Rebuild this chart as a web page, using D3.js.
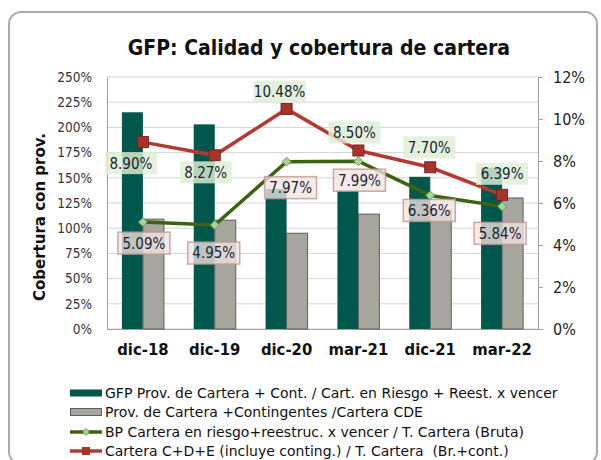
<!DOCTYPE html>
<html>
<head>
<meta charset="utf-8">
<script src="https://cdn.jsdelivr.net/npm/d3@7"></script>
<style>
html,body{margin:0;padding:0;background:#fff;}
svg{display:block;}
text{font-family:"DejaVu Sans Condensed","DejaVu Sans",sans-serif;}
</style>
</head>
<body>
<svg id="chart" width="601" height="460"></svg>
<script>
// ---- data ----
const categories = ["dic-18","dic-19","dic-20","mar-21","dic-21","mar-22"];
const coberturaGFP = [2.15, 2.03, 1.39, 1.37, 1.51, 1.60];      // left axis
const coberturaCDE = [1.09, 1.08, 0.95, 1.14, 1.18, 1.30];      // left axis
const carteraRiesgo = [0.0509, 0.0495, 0.0797, 0.0799, 0.0636, 0.0584]; // right axis
const carteraCDE = [0.0890, 0.0827, 0.1048, 0.0850, 0.0770, 0.0639];    // right axis
const leftTicks = [0,0.25,0.5,0.75,1,1.25,1.5,1.75,2,2.25,2.5];
const rightTicks = [0,0.02,0.04,0.06,0.08,0.10,0.12];
const seriesNames = [
  "GFP Prov. de Cartera + Cont. / Cart. en Riesgo + Reest. x vencer",
  "Prov. de Cartera +Contingentes /Cartera CDE",
  "BP Cartera en riesgo+reestruc. x vencer / T. Cartera (Bruta)",
  "Cartera C+D+E (incluye conting.) / T. Cartera  (Br.+cont.)"
];
// label placement (layout only)
const redLabelOffsets = [[-12,21],[-9,17],[-7,-17],[-4,-18],[-1,-20],[0,-21]];
const greenLabelOffsets = [[1,21],[-1,28],[4,26],[1,19],[-1,15],[-2,27]];

// ---- layout ----
const svg = d3.select("#chart");
const L = 107, R = 538, T = 77, B = 329;
const colDark = "#00574b", colGray = "#a6a69c", colGreen = "#3c6410", colRed = "#b23a32";

// frame
svg.append("rect").attr("x",9).attr("y",12).attr("width",588).attr("height",452)
  .attr("rx",12).attr("fill","#fff").attr("stroke","#a9a9a9").attr("stroke-width",2);

// title
svg.append("text").attr("x",319).attr("y",55).attr("text-anchor","middle")
  .attr("font-size",21).attr("font-weight","bold").attr("fill","#111")
  .text("GFP: Calidad y cobertura de cartera");

const x = d3.scaleBand().domain(categories).range([L,R]).paddingInner(0.415).paddingOuter(0.2075);
const x1 = d3.scaleBand().domain([0,1]).range([0,x.bandwidth()]);
const yL = d3.scaleLinear().domain([0,2.5]).range([B,T]);
const yR = d3.scaleLinear().domain([0,0.12]).range([B,T]);
const cx = c => x(c) + x.bandwidth()/2;

// gridlines
svg.append("g").selectAll("line").data(leftTicks).join("line")
  .attr("x1",L).attr("x2",R).attr("y1",d=>yL(d)).attr("y2",d=>yL(d))
  .attr("stroke","#d4d4d4").attr("stroke-width",1);

// left axis
const fmtL = d3.format(".0%");
const gL = svg.append("g").attr("transform",`translate(${L},0)`)
  .call(d3.axisLeft(yL).tickValues(leftTicks).tickFormat(fmtL).tickSize(0).tickPadding(15));
gL.select(".domain").attr("stroke","#a0a0a0");
gL.selectAll("text").attr("font-size",13.5).attr("fill","#333")
  .style("font-family",'"DejaVu Sans Condensed",sans-serif');

// right axis
const gR = svg.append("g").attr("transform",`translate(${R},0)`)
  .call(d3.axisRight(yR).tickValues(rightTicks).tickFormat(d3.format(".0%")).tickSize(5).tickPadding(10));
gR.select(".domain").attr("stroke","#a0a0a0");
gR.selectAll("line").attr("stroke","#a0a0a0");
gR.selectAll("text").attr("font-size",16).attr("fill","#222")
  .style("font-family",'"DejaVu Sans Condensed",sans-serif');

// bottom axis
const gB = svg.append("g").attr("transform",`translate(0,${B})`)
  .call(d3.axisBottom(x).tickSize(0).tickPadding(14));
gB.select(".domain").attr("stroke","#a0a0a0");
gB.selectAll("text").attr("font-size",16.5).attr("font-weight","bold").attr("fill","#111")
  .style("font-family",'"DejaVu Sans Condensed",sans-serif');

// y axis title
svg.append("text").attr("transform","translate(45,217) rotate(-90)").attr("text-anchor","middle")
  .attr("font-size",15).attr("font-weight","bold").attr("fill","#111")
  .style("font-family",'"DejaVu Sans",sans-serif')
  .text("Cobertura con prov.");

// bars
svg.append("g").selectAll("rect").data(categories).join("rect")
  .attr("x",c=>x(c)+x1(0)).attr("width",x1.bandwidth())
  .attr("y",(c,i)=>yL(coberturaGFP[i])).attr("height",(c,i)=>B-yL(coberturaGFP[i]))
  .attr("fill",colDark);
svg.append("g").selectAll("rect").data(categories).join("rect")
  .attr("x",c=>x(c)+x1(1)).attr("width",x1.bandwidth())
  .attr("y",(c,i)=>yL(coberturaCDE[i])).attr("height",(c,i)=>B-yL(coberturaCDE[i]))
  .attr("fill",colGray).attr("stroke","#5f5f5f").attr("stroke-width",1);

// lines
const lineR = d3.line().x((d,i)=>cx(categories[i])).y(d=>yR(d));
svg.append("path").datum(carteraRiesgo).attr("d",lineR).attr("fill","none")
  .attr("stroke",colGreen).attr("stroke-width",3.5);
svg.append("path").datum(carteraCDE).attr("d",lineR).attr("fill","none")
  .attr("stroke",colRed).attr("stroke-width",3.5);

// markers
svg.append("g").selectAll("path").data(carteraRiesgo).join("path")
  .attr("transform",(d,i)=>`translate(${cx(categories[i])},${yR(d)})`)
  .attr("d",d3.symbol(d3.symbolDiamond2,50))
  .attr("fill","#a8d49a").attr("stroke","#6e9c5c").attr("stroke-width",1);
svg.append("g").selectAll("rect").data(carteraCDE).join("rect")
  .attr("x",(d,i)=>cx(categories[i])-5.5).attr("y",d=>yR(d)-5.5)
  .attr("width",11).attr("height",11)
  .attr("fill","#a8322c").attr("stroke","#7a2420").attr("stroke-width",1);

// data labels
const fmtP = d3.format(".2%");
function labels(vals, offs, bg, stroke){
  const g = svg.append("g").selectAll("g").data(vals).join("g")
    .attr("transform",(d,i)=>`translate(${cx(categories[i])+offs[i][0]},${yR(d)+offs[i][1]})`);
  g.append("rect").attr("x",-26).attr("y",-11).attr("width",52).attr("height",22)
    .attr("fill",bg).attr("stroke",stroke).attr("stroke-width",stroke==="none"?0:1.5);
  g.append("text").attr("text-anchor","middle").attr("dy","0.36em")
    .attr("font-size",15).attr("fill","#1a1f33").text(d=>fmtP(d));
}
labels(carteraCDE, redLabelOffsets, "rgba(222,239,214,0.82)", "none");
labels(carteraRiesgo, greenLabelOffsets, "rgba(242,228,226,0.78)", "rgba(190,150,146,0.8)");

// legend
const lg = svg.append("g");
const rows = [393, 412, 432, 451];
lg.append("rect").attr("x",70).attr("y",rows[0]-3.5).attr("width",32).attr("height",7).attr("fill",colDark);
lg.append("rect").attr("x",70.5).attr("y",rows[1]-3.5).attr("width",31).attr("height",7)
  .attr("fill",colGray).attr("stroke","#5f5f5f").attr("stroke-width",1);
lg.append("line").attr("x1",70).attr("x2",102).attr("y1",rows[2]).attr("y2",rows[2]).attr("stroke",colGreen).attr("stroke-width",3.5);
lg.append("path").attr("transform",`translate(86,${rows[2]})`).attr("d",d3.symbol(d3.symbolDiamond2,30))
  .attr("fill","#a8d49a").attr("stroke","#6e9c5c");
lg.append("line").attr("x1",70).attr("x2",102).attr("y1",rows[3]).attr("y2",rows[3]).attr("stroke",colRed).attr("stroke-width",3.5);
lg.append("rect").attr("x",82).attr("y",rows[3]-4).attr("width",8).attr("height",8).attr("fill","#a8322c");
lg.selectAll("text").data(seriesNames).join("text")
  .attr("x",105).attr("y",(d,i)=>rows[i]).attr("dy","0.36em")
  .attr("font-size",14).attr("fill","#111").style("white-space","pre")
  .style("font-family",'"DejaVu Sans",sans-serif').text(d=>d);
</script>
</body>
</html>
